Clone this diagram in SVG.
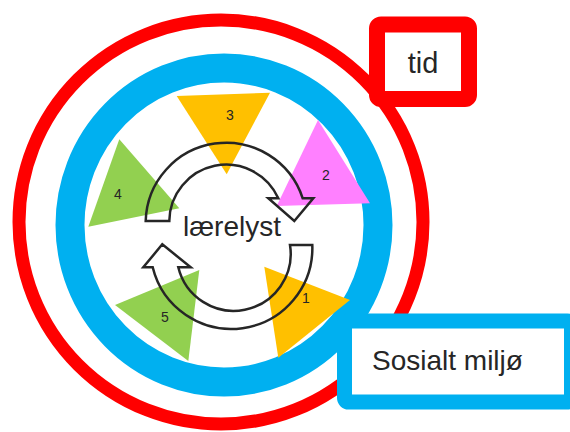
<svg xmlns="http://www.w3.org/2000/svg" width="570" height="432" viewBox="0 0 570 432">
<style>
  .lbl{font-family:"Liberation Sans",Arial,sans-serif;fill:#262626;}
  .num{font-size:14px;text-anchor:middle;}
  .cyc{fill:none;stroke:#262626;stroke-width:2.5;stroke-linejoin:miter;}
</style>
<rect width="570" height="432" fill="#ffffff"/>
<g id="ring-tid">
  <circle cx="221" cy="222" r="202" fill="none" stroke="#FF0000" stroke-width="13"/>
</g>
<g id="ring-miljo">
  <ellipse cx="224" cy="225" rx="154" ry="157" fill="none" stroke="#00B0F0" stroke-width="29"/>
</g>
<g id="tri-3">
  <polygon points="176.7,96 270,92.7 226.7,174.3" fill="#FFC000"/>
  <text class="lbl num" x="230" y="120">3</text>
</g>
<g id="tri-2">
  <polygon points="318,120 276.7,206 370,203.3" fill="#FF80FF"/>
  <text class="lbl num" x="326" y="180">2</text>
</g>
<g id="tri-4">
  <polygon points="119.3,139.3 88.3,226.7 179.3,208.3" fill="#92D050"/>
  <text class="lbl num" x="118" y="199">4</text>
</g>
<g id="tri-1">
  <polygon points="264.3,266.7 350,300 278.3,357.7" fill="#FFC000"/>
  <text class="lbl num" x="306" y="303">1</text>
</g>
<g id="tri-5">
  <polygon points="199.3,270 115,305 188.3,361" fill="#92D050"/>
  <text class="lbl num" x="165" y="322">5</text>
</g>
<g id="connectors">
  <path class="cyc" d="M145.7,221 A80.5,80.5 0 0 1 302.7,198.3 L313.3,198.3 L294.3,221 L268.3,198.3 L278.3,198.3 A57,57 0 0 0 169.3,221 Z"/>
  <path class="cyc" d="M312.3,245 A81,81 0 0 1 152.7,267.3 L143.3,267.3 L162.3,244.3 L190.7,267.3 L178.3,267.3 A57,57 0 0 0 290,245 Z"/>
</g>
<g id="center">
  <text class="lbl" x="232" y="236" font-size="28" text-anchor="middle">lærelyst</text>
</g>
<g id="box-tid">
  <rect x="377" y="24.5" width="92" height="74.5" rx="4" fill="#ffffff" stroke="#FF0000" stroke-width="16"/>
  <text class="lbl" x="423" y="73" font-size="29" text-anchor="middle">tid</text>
</g>
<g id="box-miljo">
  <rect x="344.5" y="321" width="227" height="81" rx="4" fill="#ffffff" stroke="#00B0F0" stroke-width="15"/>
  <text class="lbl" x="372" y="370" font-size="28">Sosialt miljø</text>
</g>
</svg>
